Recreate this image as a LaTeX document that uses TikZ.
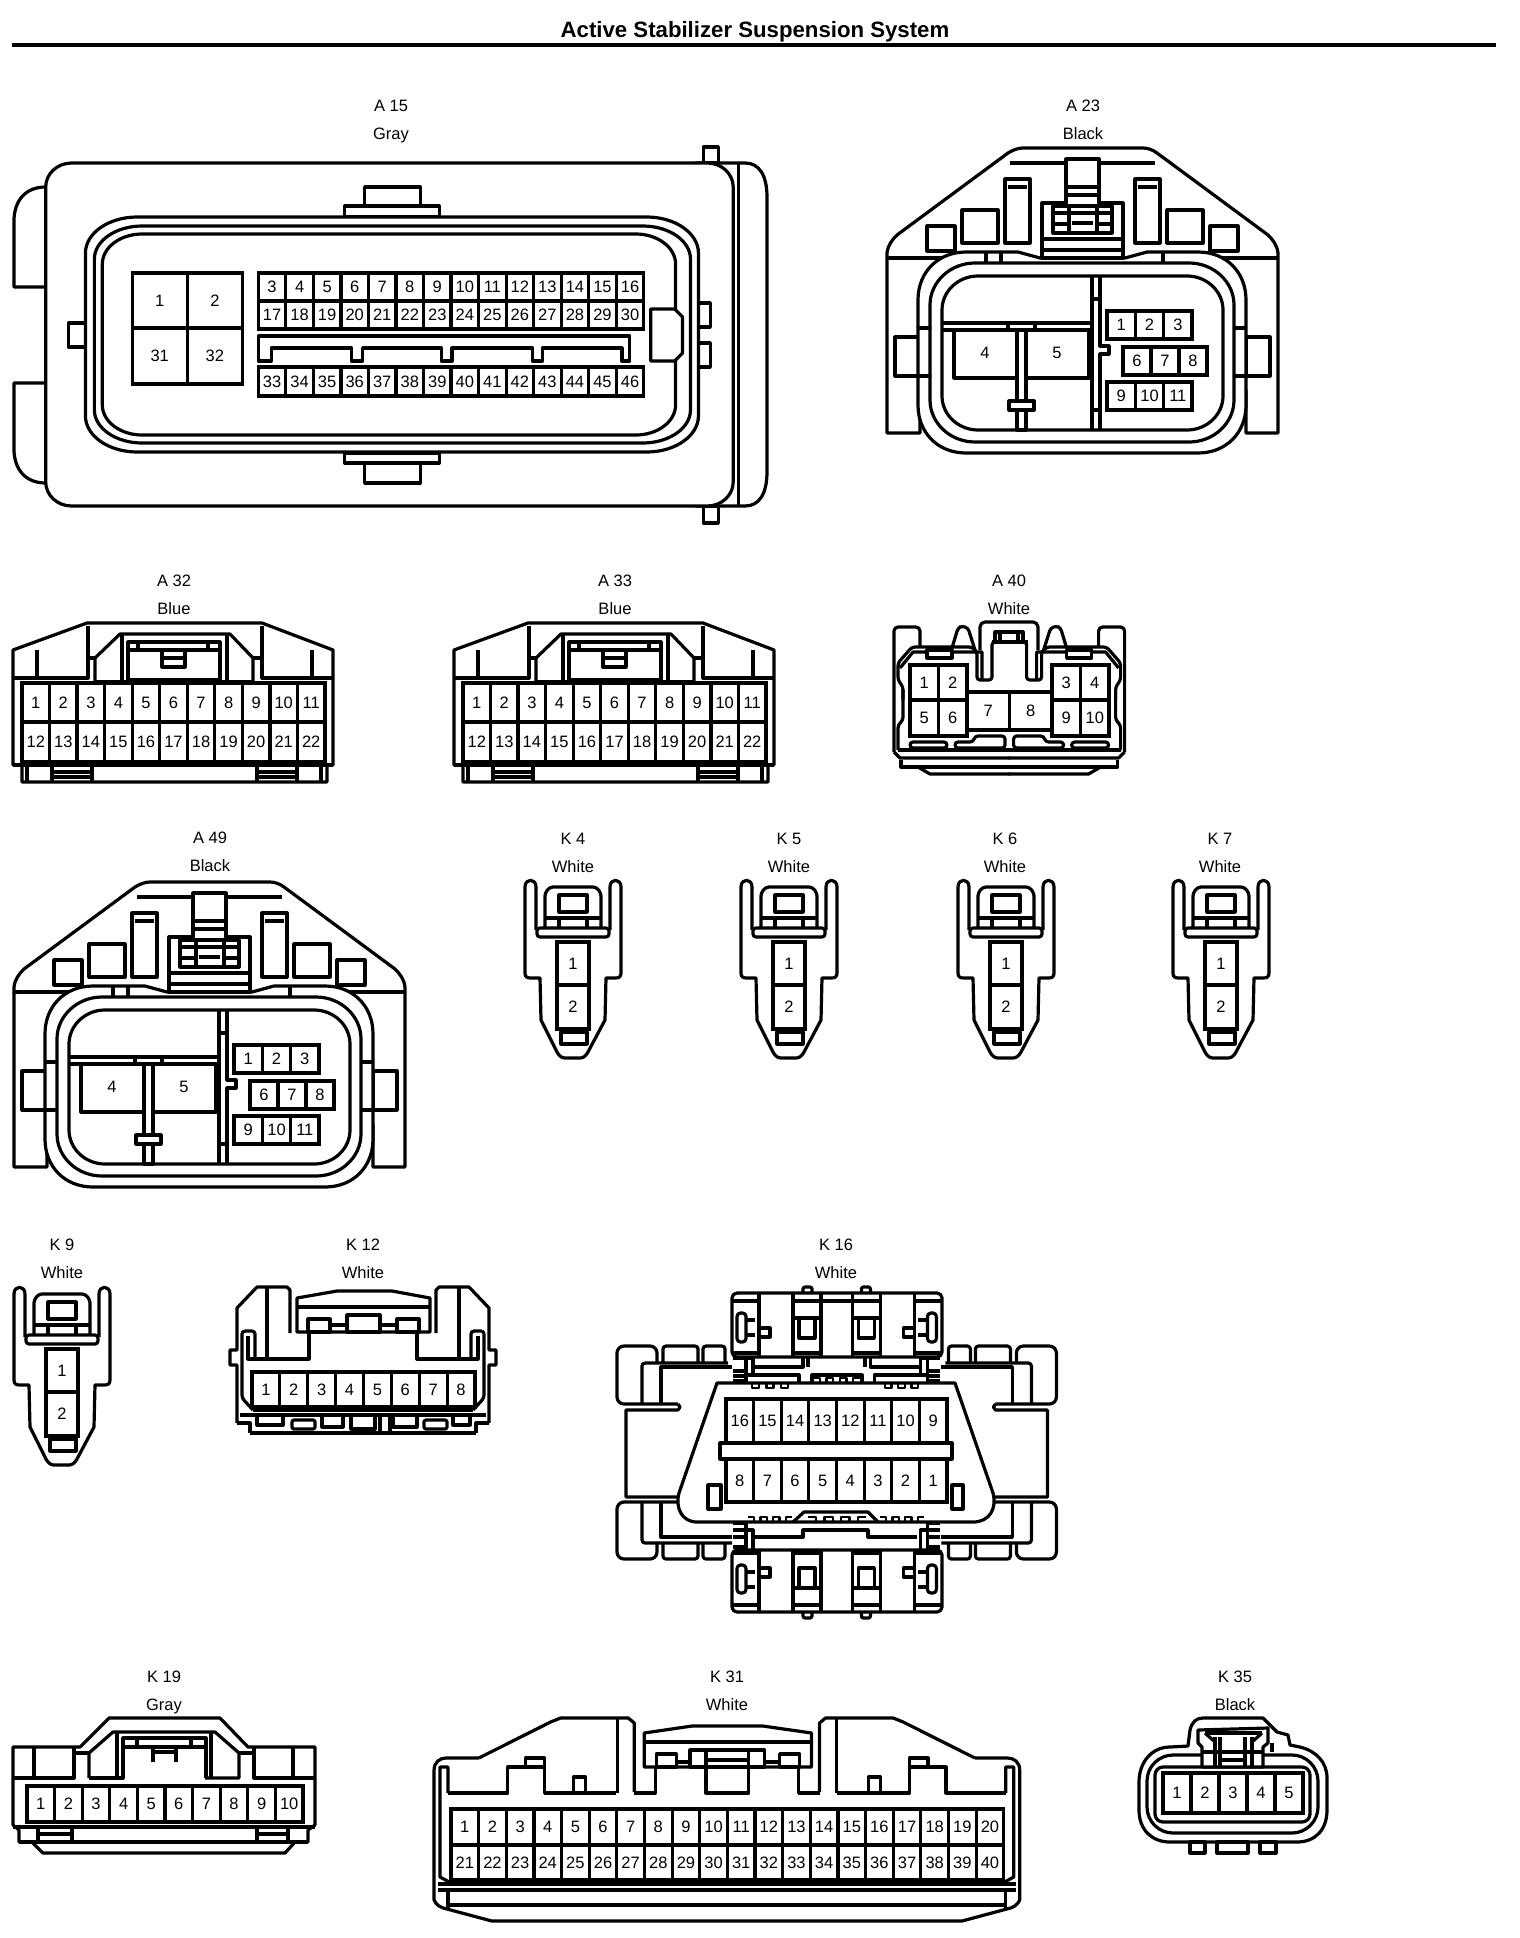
\documentclass[tikz,border=0pt]{standalone}
\usepackage{fontspec}
\setmainfont{Liberation Sans}
\tikzset{
 ln/.style={draw=black,line width=3.2pt,line join=round,line cap=butt},
 thin ln/.style={draw=black,line width=2.2pt,line join=round},
 pinln/.style={draw=black,line width=3.2pt,line join=miter},
 pintext/.style={inner sep=0pt,font=\fontsize{16.5}{18}\selectfont},
 lab/.style={inner sep=0pt,anchor=base,font=\fontsize{16.5}{18}\selectfont},
}
% name,x0,y0,x1,y1,cols,labels
\newcommand{\PinRow}[7]{%
 \draw[pinln,fill=white] (#2,#3) rectangle (#4,#5);
 \pgfmathsetmacro\cw{(#4-#2)/#6}
 \foreach \lab [count=\i] in {#7} {
  \pgfmathsetmacro\xa{#2+(\i-1)*\cw}
  \ifnum\i>1 \draw[pinln] (\xa,#3) -- (\xa,#5);\fi
  \node[pintext] (#1-\lab) at ({\xa+\cw/2},{(#3+#5)/2}) {\lab};
 }}
% rounded rectangle with elliptic corners: x0,y0,x1,y1,rx,ry
\newcommand{\RRect}[6]{%
 \draw[ln,fill=white] ({#1+#5},#2) -- ({#3-#5},#2)
  .. controls ({#3-.45*#5},#2) and (#3,{#2+.45*#6}) .. (#3,{#2+#6})
  -- (#3,{#4-#6}) .. controls (#3,{#4-.45*#6}) and ({#3-.45*#5},#4) .. ({#3-#5},#4)
  -- ({#1+#5},#4) .. controls ({#1+.45*#5},#4) and (#1,{#4-.45*#6}) .. (#1,{#4-#6})
  -- (#1,{#2+#6}) .. controls (#1,{#2+.45*#6}) and ({#1+.45*#5},#2) .. ({#1+#5},#2) -- cycle;}
% caption: name, x, y of first line, first, second
\newcommand{\Capt}[5]{%
 \node[lab] (#1-code) at (#2,{#3+6}) {#4};
 \node[lab] (#1-colour) at (#2,{#3+34}) {#5};}
\newcommand{\Bx}[4]{\draw[ln,fill=white] (#1,#2) rectangle (#3,#4);}

% A23 / A49
\newcommand{\AFive}[1]{%
 \draw[ln,fill=white] (887,433) -- (887,253) .. controls (888,245) and (892,240) .. (897,235) -- (1008,153) .. controls (1013,150) and (1018,148) .. (1023,148) -- (1143,148) .. controls (1148,148) and (1153,150) .. (1157,153) -- (1268,235) .. controls (1273,240) and (1277,245) .. (1278,253) -- (1278,433) -- (1246,433) -- (1246,390) -- (920,390) -- (920,433) -- cycle;
 \draw[ln] (887,258) -- (945,258);
 \draw[ln] (1222,258) -- (1278,258);
 \Bx{927}{226}{955}{251}
 \Bx{962}{210}{998}{243}
 \Bx{1005}{179}{1030}{243}
 \Bx{1135}{179}{1160}{243}
 \Bx{1167}{210}{1203}{243}
 \Bx{1210}{226}{1238}{251}
 \draw[ln] (1008,187) -- (1027,187);
 \draw[ln] (1138,187) -- (1157,187);
 \draw[ln] (1010,163) -- (1155,163);
 \Bx{895}{337}{920}{376}
 \Bx{1246}{337}{1270}{376}
 \draw[ln,fill=white] (918,300) .. controls (918,272) and (938,252) .. (966,252) -- (1018,252) -- (1040,258) -- (1125,258) -- (1147,252) -- (1198,252) .. controls (1226,252) and (1246,272) .. (1246,300) -- (1246,405) .. controls (1246,433) and (1226,453) .. (1198,453) -- (966,453) .. controls (938,453) and (918,433) .. (918,405) -- cycle;
 \draw[ln] (986,252) -- (986,263);
 \draw[ln] (1001,252) -- (1001,263);
 \draw[ln] (1163,252) -- (1163,263);
 \draw[ln] (918,328) -- (930,328);
 \draw[ln] (918,376) -- (930,376);
 \draw[ln] (1234,328) -- (1246,328);
 \draw[ln] (1234,376) -- (1246,376);
 \RRect{930}{263}{1234}{442}{45}{42}
 \RRect{942}{276}{1223}{430}{36}{34}
 \draw[ln,fill=white] (1066,159) -- (1099,159) -- (1099,203) -- (1123,203) -- (1123,258) -- (1042,258) -- (1042,203) -- (1066,203) -- cycle;
 \draw[ln] (1066,187) -- (1099,187);
 \draw[ln] (1066,195) -- (1099,195);
 \draw[ln,fill=white] (1053,206) rectangle (1112,233);
 \draw[ln] (1069,206) -- (1069,233);
 \draw[ln] (1097,206) -- (1097,233);
 \draw[ln] (1053,213) -- (1112,213);
 \draw[ln] (1053,224) -- (1069,224);
 \draw[ln] (1097,224) -- (1112,224);
 \draw[ln] (1072,223) -- (1093,223);
 \draw[ln] (1042,239) -- (1123,239);
 \draw[ln] (1042,250) -- (1123,250);
 \draw[ln] (1092,276) -- (1092,430);
 \draw[ln] (1100,276) -- (1100,346) -- (1109,346) -- (1109,354) -- (1100,354) -- (1100,430);
 \draw[ln] (1092,299) -- (1100,299);
 \draw[ln] (1092,410) -- (1100,410);
 \draw[ln] (942,323) -- (1092,323);
 \draw[ln] (942,330) -- (1092,330);
 \draw[ln] (1008,323) -- (1008,330);
 \draw[ln] (1035,323) -- (1035,330);
 \draw[ln] (954,330) -- (954,378) -- (1089,378) -- (1089,330);
 \draw[ln,fill=white] (1017,330) rectangle (1026,430);
 \draw[ln,fill=white] (1009,401) rectangle (1034,410);
 \node[pintext] (#1-4) at (985,353) {4};
 \node[pintext] (#1-5) at (1057,353) {5};
 \PinRow{#1}{1107}{311}{1192}{339}{3}{1,2,3}
 \PinRow{#1}{1123}{347}{1207}{375}{3}{6,7,8}
 \PinRow{#1}{1107}{382}{1192}{410}{3}{9,10,11}
}

% A32 / A33
\newcommand{\ATwo}[1]{%
 \draw[ln,fill=white] (13,650) -- (87,623) -- (262,623) -- (333,650) -- (333,765) -- (327,765) -- (327,782) -- (22,782) -- (22,765) -- (13,765) -- cycle;
 \draw[ln] (13,678) -- (88,678) -- (88,626);
 \draw[ln] (333,678) -- (262,678) -- (262,626);
 \draw[ln] (37,650) -- (37,678);
 \draw[ln] (312,650) -- (312,678);
 \draw[ln] (95,682) -- (95,658) -- (120,634) -- (230,634) -- (253,658) -- (253,682);
 \draw[ln] (88,658) -- (95,658);
 \draw[ln] (253,658) -- (262,658);
 \draw[ln] (122,634) -- (122,682);
 \draw[ln] (227,634) -- (227,682);
 \draw[ln] (95,682) -- (128,682);
 \draw[ln] (220,682) -- (253,682);
 \draw[ln,fill=white] (128,642) rectangle (220,680);
 \draw[ln] (128,650) -- (220,650);
 \draw[ln] (138,642) -- (138,650);
 \draw[ln] (208,642) -- (208,650);
 \draw[ln] (162,650) -- (162,667) -- (185,667) -- (185,650);
 \draw[ln] (162,658) -- (185,658);
 \PinRow{#1}{22}{683}{325}{722}{11}{1,2,3,4,5,6,7,8,9,10,11}
 \PinRow{#1}{22}{722}{325}{762}{11}{12,13,14,15,16,17,18,19,20,21,22}
 \draw[ln] (13,765) -- (333,765);
 \draw[ln] (27,765) -- (27,782);
 \draw[ln] (52,765) -- (52,782);
 \draw[ln] (92,765) -- (92,782);
 \draw[ln] (52,772) -- (92,772);
 \draw[ln] (52,777) -- (92,777);
 \draw[ln] (257,765) -- (257,782);
 \draw[ln] (297,765) -- (297,782);
 \draw[ln] (257,772) -- (297,772);
 \draw[ln] (257,777) -- (297,777);
 \draw[ln] (321,765) -- (321,782);
}

% K4 family
\newcommand{\KFour}[1]{%
 \draw[ln,fill=white] (536,930) -- (536,887) .. controls (536,878) and (525,878) .. (525,887) -- (525,973) .. controls (525,977) and (527,978) .. (531,978) -- (540,978) -- (541,1020) -- (557,1052) .. controls (559,1056) and (562,1058) .. (565,1058) -- (580,1058) .. controls (583,1058) and (586,1056) .. (588,1052) -- (605,1020) -- (606,978) -- (615,978) .. controls (619,978) and (621,977) .. (621,973) -- (621,887) .. controls (621,878) and (610,878) .. (610,887) -- (610,930);
 \draw[ln,fill=white,rounded corners=3pt] (545,930) -- (545,893) -- (550,887) -- (596,887) -- (601,893) -- (601,930);
 \draw[ln] (545,918) -- (601,918);
 \draw[ln] (559,918) -- (559,930);
 \draw[ln] (587,918) -- (587,930);
 \draw[ln,fill=white] (559,895) rectangle (587,912);
 \draw[ln,fill=white,rounded corners=3pt] (537,928) rectangle (609,937);
 \PinRow{#1}{557}{942}{589}{985}{1}{1}
 \PinRow{#1}{557}{985}{589}{1029}{1}{2}
 \draw[ln,fill=white] (561,1032) rectangle (587,1044);
}

\newcommand{\KTwelveHalf}{%
 \draw[ln] (237,1423) -- (237,1365) -- (230,1365) -- (230,1350) -- (237,1350) -- (237,1308) -- (257,1287) -- (287,1287) -- (290,1290) -- (290,1333);
 \draw[ln] (267,1287) -- (267,1359);
 \draw[ln] (309,1332) -- (309,1359) -- (248,1359) -- (248,1336);
 \draw[ln,rounded corners=3pt] (255,1359) -- (255,1331) -- (242,1331) -- (242,1398) -- (253,1410);
 \draw[ln] (237,1423) -- (250,1423) -- (250,1433);
}
\newcommand{\KSixWing}{%
 \draw[ln,rounded corners=7pt] (657,1362) -- (657,1346) -- (617,1346) -- (617,1404) -- (678,1404);
 \draw[ln] (678,1404) -- (680,1407) -- (678,1410) -- (626,1410) -- (626,1497) -- (679,1497);
 \draw[ln,rounded corners=3pt] (663,1362) -- (663,1346) -- (698,1346) -- (698,1362);
 \draw[ln,rounded corners=3pt] (703,1362) -- (703,1346) -- (725,1346) -- (725,1362);
 \draw[ln,rounded corners=3pt] (642,1403) -- (642,1363) -- (728,1363);
 \draw[ln] (661,1403) -- (661,1367) -- (732,1367);
 \draw[ln,rounded corners=7pt] (679,1502) -- (617,1502) -- (617,1559) -- (657,1559) -- (657,1543);
 \draw[ln,rounded corners=3pt] (663,1543) -- (663,1559) -- (698,1559) -- (698,1543);
 \draw[ln,rounded corners=3pt] (703,1543) -- (703,1559) -- (725,1559) -- (725,1543);
 \draw[ln,rounded corners=3pt] (642,1503) -- (642,1543) -- (732,1543);
 \draw[ln] (661,1503) -- (661,1537) -- (732,1537);
}
\newcommand{\KSixStack}{%
 \draw[ln] (733,1358) -- (753,1358) -- (753,1375) -- (747,1375);
 \draw[ln] (733,1371) -- (746,1371);
 \draw[ln] (733,1376) -- (746,1376);
 \draw[ln] (733,1381) -- (746,1381);
 \draw[ln] (746,1358) -- (746,1383);
 \draw[ln] (753,1367) -- (803,1367) -- (803,1358);
 \draw[ln] (753,1375) -- (799,1375) -- (799,1383);
 \draw[ln] (733,1523) -- (746,1523);
 \draw[ln] (733,1530) -- (746,1530);
 \draw[ln] (733,1537) -- (746,1537);
 \draw[ln] (733,1547) -- (746,1547);
 \draw[ln] (746,1522) -- (746,1550);
 \draw[ln] (746,1530) -- (753,1530) -- (753,1549);
 \draw[ln] (759,1293) -- (759,1357);
 \draw[ln] (732,1301) -- (759,1301);
 \draw[ln] (732,1353) -- (759,1353);
 \draw[ln,rounded corners=3.5pt] (737,1313) rectangle (746,1342);
 \draw[ln] (746,1320) -- (755,1320);
 \draw[ln] (746,1335) -- (755,1335);
 \draw[ln] (760,1328) -- (770,1328) -- (770,1337) -- (760,1337);
 \draw[ln] (793,1293) -- (793,1357);
 \draw[ln] (821,1293) -- (821,1357);
 \draw[ln] (793,1301) -- (821,1301);
 \draw[ln] (793,1353) -- (821,1353);
 \draw[ln] (799,1318) -- (799,1338) -- (815,1338) -- (815,1318);
 \draw[ln] (793,1318) -- (821,1318);
 \draw[ln,rounded corners=2pt] (803,1293) -- (803,1287) -- (812,1287) -- (812,1293);
 \draw[ln] (759,1550) -- (759,1612);
 \draw[ln] (732,1553) -- (759,1553);
 \draw[ln] (732,1605) -- (759,1605);
 \draw[ln,rounded corners=3.5pt] (737,1565) rectangle (746,1593);
 \draw[ln] (746,1572) -- (755,1572);
 \draw[ln] (746,1587) -- (755,1587);
 \draw[ln] (760,1568) -- (770,1568) -- (770,1577) -- (760,1577);
 \draw[ln] (793,1550) -- (793,1612);
 \draw[ln] (821,1550) -- (821,1612);
 \draw[ln] (793,1553) -- (821,1553);
 \draw[ln] (793,1605) -- (821,1605);
 \draw[ln] (799,1588) -- (799,1568) -- (815,1568) -- (815,1588);
 \draw[ln] (793,1588) -- (821,1588);
 \draw[ln,rounded corners=2pt] (803,1612) -- (803,1618) -- (812,1618) -- (812,1612);
}
\newcommand{\Crenel}[3]{% x0,x1,y
 \pgfmathsetmacro\cstep{(#2-#1)/7}
 \draw[thin ln] (#1,#3) -- ++(\cstep,0) -- ++(0,5) -- ++(\cstep,0) -- ++(0,-5) -- ++(\cstep,0) -- ++(0,5) -- ++(\cstep,0) -- ++(0,-5) -- ++(\cstep,0) -- ++(0,5) -- ++(\cstep,0) -- ++(0,-5) -- ++(\cstep,0);}
\newcommand{\KThirtyHalf}{%
 \draw[ln] (635,1792) -- (635,1723) -- (629,1718) -- (561,1718) -- (551,1722) -- (479,1758);
 \draw[ln] (618,1718) -- (618,1793);
 \draw[ln] (448,1793) -- (508,1793) -- (508,1767) -- (545,1767) -- (545,1793) -- (617,1793);
 \draw[ln] (526,1767) -- (526,1758) -- (545,1758) -- (545,1767);
 \draw[ln] (574,1793) -- (574,1777) -- (586,1777) -- (586,1793);
 \draw[ln] (635,1793) -- (656,1793) -- (656,1767);
 \draw[ln] (448,1793) -- (448,1767) -- (440,1767) -- (440,1877) -- (451,1883);
}
\begin{document}
\begin{tikzpicture}[x=1pt,y=-1pt]
\useasboundingbox (0,0) rectangle (1520,1938);
\fill[white] (0,0) rectangle (1520,1938);

% Title
\node[inner sep=0pt,anchor=base,font=\fontsize{22.2}{24}\selectfont\bfseries] (title) at (755,37) {Active Stabilizer Suspension System};
\coordinate (ruleL) at (12,45);
\coordinate (ruleR) at (1496,45);
\draw[line width=4.5pt] (ruleL) -- (ruleR);

%%%%%%%% A15
\Capt{A15}{391}{105}{A 15}{Gray}
\begin{scope}[xscale=.9935]
\draw[ln,fill=white] (46,187) .. controls (26,187) and (14,200) .. (14,222) -- (14,287) -- (46,287);
\draw[ln,fill=white] (46,383) -- (14,383) -- (14,448) .. controls (14,470) and (26,483) .. (46,483);
\Bx{708}{147}{723}{163}
\Bx{708}{506}{723}{523}
\draw[ln,fill=white] (700,163) -- (750,163) .. controls (764,163) and (772,175) .. (772,197) -- (772,472) .. controls (772,494) and (764,506) .. (750,506) -- (700,506);
\draw[ln] (743,163) -- (743,506);
\RRect{46}{163}{738}{506}{26}{24}
\Bx{367}{187}{423}{206}
\Bx{347}{206}{442}{217}
\Bx{367}{463}{423}{483}
\Bx{347}{453}{442}{463}
\Bx{69}{323}{86}{347}
\Bx{703}{303}{715}{327}
\Bx{703}{343}{715}{367}
\RRect{86}{217}{703}{452}{52}{36}
\RRect{95}{226}{695}{443}{48}{33}
\RRect{103}{234}{680}{435}{40}{30}
\PinRow{A15}{133}{273}{244}{328}{2}{1,2}
\PinRow{A15}{133}{328}{244}{384}{2}{31,32}
\PinRow{A15}{260}{273}{648}{301}{14}{3,4,5,6,7,8,9,10,11,12,13,14,15,16}
\PinRow{A15}{260}{301}{648}{329}{14}{17,18,19,20,21,22,23,24,25,26,27,28,29,30}
\PinRow{A15}{260}{367}{648}{396}{14}{33,34,35,36,37,38,39,40,41,42,43,44,45,46}
\draw[ln] (260,336) -- (634,336) -- (634,361) -- (626,361) -- (626,348) -- (546,348) -- (546,361) -- (536,361) -- (536,348) -- (455,348) -- (455,361) -- (444,361) -- (444,348) -- (365,348) -- (365,361) -- (354,361) -- (354,348) -- (273,348) -- (273,361) -- (260,361) -- cycle;
\draw[ln,fill=white] (655,309) -- (679,309) -- (687,317) -- (687,353) -- (679,361) -- (655,361) -- cycle;
\end{scope}

%%%%%%%% A23
\Capt{A23}{1083}{105}{A 23}{Black}
\AFive{A23}

%%%%%%%% A49
\Capt{A49}{210}{837}{A 49}{Black}
\begin{scope}[shift={(-873,734)}]
\AFive{A49}
\end{scope}

%%%%%%%% A32 / A33
\Capt{A32}{174}{580}{A 32}{Blue}
\ATwo{A32}
\Capt{A33}{615}{580}{A 33}{Blue}
\begin{scope}[shift={(441,0)}]
\ATwo{A33}
\end{scope}

%%%%%%%% A40
\Capt{A40}{1009}{580}{A 40}{White}
\foreach \sc/\off in {1/0,-1/2018.6}{
\begin{scope}[shift={(\off,0)},xscale=\sc]
 \draw[ln,rounded corners=4pt] (894,752) -- (894,627) -- (920,627) -- (920,647);
 \draw[ln,rounded corners=3pt] (952,648) -- (958,628) -- (962,626) -- (968,628) -- (975,650);
 \draw[ln,rounded corners=3pt] (903,700) -- (903,687) -- (898,680) -- (898,663) -- (912,647) -- (972,647) -- (977,652) -- (977,680) -- (992,680) -- (992,642) -- (1010,642);
 \draw[ln] (900,668) -- (913,652) -- (972,652) -- (982,652) -- (982,680);
 \draw[ln,fill=white] (927,650) rectangle (952,658);
 \draw[ln,rounded corners=3pt] (898,750) -- (898,725) -- (903,720) -- (903,690);
 \draw[ln] (894,752) -- (900,758) -- (1010,758);
 \draw[ln] (901,760) -- (901,767) -- (1010,767);
 \draw[ln] (918,767) -- (930,774) -- (1010,774);
 \draw[ln,rounded corners=3pt] (910,742) rectangle (947,748);
 \draw[ln,rounded corners=3pt] (955,748) -- (955,742) -- (973,742) -- (975,736) -- (1005,736) -- (1005,748) -- cycle;
 \draw[ln] (898,750) -- (1010,750);
\end{scope}}
\draw[ln,rounded corners=5pt] (980,650) -- (980,622) -- (1038,622) -- (1038,650);
\draw[ln] (992,642) -- (1028,642);
\draw[ln] (995,640) -- (995,632) -- (1023,632) -- (1023,640);
\draw[ln] (1000,632) -- (1000,640);
\draw[ln] (1018,632) -- (1018,640);
\PinRow{A40}{910}{665}{967}{700}{2}{1,2}
\PinRow{A40}{910}{700}{967}{736}{2}{5,6}
\PinRow{A40}{1052}{665}{1109}{700}{2}{3,4}
\PinRow{A40}{1052}{700}{1109}{736}{2}{9,10}
\PinRow{A40}{967}{692}{1052}{730}{2}{7,8}

%%%%%%%% K4..K9
\Capt{K4}{573}{838}{K 4}{White}
\KFour{K4}
\Capt{K5}{789}{838}{K 5}{White}
\begin{scope}[shift={(216,0)}]\KFour{K5}\end{scope}
\Capt{K6}{1005}{838}{K 6}{White}
\begin{scope}[shift={(433,0)}]\KFour{K6}\end{scope}
\Capt{K7}{1220}{838}{K 7}{White}
\begin{scope}[shift={(648,0)}]\KFour{K7}\end{scope}
\Capt{K9}{62}{1244}{K 9}{White}
\begin{scope}[shift={(-511,407)}]\KFour{K9}\end{scope}

%%%%%%%% K12
\Capt{K12}{363}{1244}{K 12}{White}
\KTwelveHalf
\begin{scope}[shift={(726,0)},xscale=-1]\KTwelveHalf\end{scope}
\draw[ln,fill=white] (297,1298) -- (337,1291) -- (392,1291) -- (430,1298) -- (430,1332) -- (297,1332) -- cycle;
\draw[ln] (297,1307) -- (430,1307);
\Bx{308}{1319}{330}{1332}
\Bx{397}{1319}{419}{1332}
\Bx{347}{1315}{380}{1332}
\draw[ln] (330,1325) -- (347,1325);
\draw[ln] (380,1325) -- (397,1325);
\draw[ln] (417,1332) -- (417,1359);
\PinRow{K12}{252}{1372}{475}{1407}{8}{1,2,3,4,5,6,7,8}
\draw[ln] (253,1410) -- (473,1410);
\draw[ln] (240,1415) -- (486,1415);
\draw[ln] (250,1433) -- (476,1433);
\draw[ln] (257,1417) -- (257,1425) -- (283,1425) -- (283,1417);
\draw[ln,rounded corners=2pt] (292,1420) rectangle (315,1429);
\draw[ln] (322,1417) -- (322,1427) -- (343,1427) -- (343,1417);
\draw[ln] (351,1417) -- (351,1429) -- (375,1429) -- (375,1417);
\draw[ln] (380,1417) -- (380,1431);
\draw[ln] (390,1417) -- (390,1431);
\draw[ln] (393,1417) -- (393,1427) -- (417,1427) -- (417,1417);
\draw[ln,rounded corners=2pt] (424,1420) rectangle (447,1429);
\draw[ln] (453,1417) -- (453,1425) -- (470,1425) -- (470,1417);

%%%%%%%% K16
\Capt{K16}{836}{1244}{K 16}{White}
\KSixWing
\begin{scope}[shift={(1673.4,0)},xscale=-1]\KSixWing\end{scope}
\draw[ln,fill=white,rounded corners=5pt] (732,1293) rectangle (942,1357);
\draw[ln,fill=white,rounded corners=5pt] (732,1550) rectangle (942,1612);
\KSixStack
\begin{scope}[shift={(1673.4,0)},xscale=-1]\KSixStack\end{scope}
\draw[ln] (822,1301) -- (852,1301);
\draw[ln] (808,1357) -- (808,1367);
\draw[ln] (865,1357) -- (865,1367);
\draw[ln] (812,1383) -- (812,1375) -- (862,1375) -- (862,1383);
\draw[ln] (755,1537) -- (803,1537) -- (803,1530) -- (868,1530) -- (868,1537) -- (917,1537);
\draw[ln,fill=white] (717,1383) -- (955,1383) -- (993,1493) .. controls (997,1508) and (990,1522) .. (973,1522) -- (697,1522) .. controls (682,1522) and (675,1508) .. (679,1493) -- cycle;
\Crenel{745}{795}{1383}
\Crenel{813}{860}{1378}
\Crenel{878}{925}{1383}
\Crenel{748}{792}{1517}
\Crenel{808}{866}{1517}
\Crenel{880}{924}{1517}
\draw[ln] (793,1522) -- (804,1512) -- (868,1512) -- (878,1522);
\PinRow{K16}{726}{1399}{947}{1443}{8}{16,15,14,13,12,11,10,9}
\PinRow{K16}{726}{1459}{947}{1502}{8}{8,7,6,5,4,3,2,1}
\draw[ln,fill=white] (720,1443) rectangle (952,1459);
\Bx{708}{1485}{721}{1509}
\Bx{952}{1485}{963}{1509}

%%%%%%%% K19
\Capt{K19}{164}{1676}{K 19}{Gray}
\draw[ln,fill=white] (13,1747) -- (80,1747) -- (109,1718) -- (220,1718) -- (248,1747) -- (315,1747) -- (315,1825) -- (308,1830) -- (308,1842) -- (295,1842) -- (285,1853) -- (43,1853) -- (32,1842) -- (19,1842) -- (19,1830) -- (13,1825) -- cycle;
\draw[ln] (13,1778) -- (74,1778) -- (74,1747);
\draw[ln] (315,1778) -- (254,1778) -- (254,1747);
\draw[ln] (34,1747) -- (34,1778);
\draw[ln] (293,1747) -- (293,1778);
\draw[ln] (74,1753) -- (89,1753);
\draw[ln] (239,1753) -- (254,1753);
\draw[ln] (89,1778) -- (89,1753) -- (113,1732) -- (215,1732) -- (239,1753) -- (239,1778) -- (205,1778);
\draw[ln] (89,1778) -- (123,1778) -- (123,1738) -- (206,1738) -- (206,1778);
\draw[ln] (117,1732) -- (117,1778);
\draw[ln] (211,1732) -- (211,1778);
\draw[ln] (123,1747) -- (206,1747);
\draw[ln] (137,1738) -- (137,1747);
\draw[ln] (191,1738) -- (191,1747);
\draw[ln] (153,1747) -- (153,1762);
\draw[ln] (176,1747) -- (176,1762);
\draw[ln] (153,1752) -- (176,1752);
\PinRow{K19}{27}{1786}{303}{1822}{10}{1,2,3,4,5,6,7,8,9,10}
\draw[ln] (13,1827) -- (315,1827);
\draw[ln] (19,1842) -- (308,1842);
\draw[ln] (38,1827) -- (38,1842);
\draw[ln] (72,1827) -- (72,1842);
\draw[ln] (38,1834) -- (72,1834);
\draw[ln] (257,1827) -- (257,1842);
\draw[ln] (288,1827) -- (288,1842);
\draw[ln] (257,1834) -- (288,1834);

%%%%%%%% K31
\Capt{K31}{727}{1676}{K 31}{White}
\begin{scope}[shift={(1.8,0)},xscale=.996]
\draw[ln] (479,1758) -- (446,1758) .. controls (440,1758) and (434,1762) .. (434,1770) -- (434,1900) .. controls (436,1905) and (441,1908) .. (447,1909) -- (492,1921) -- (964,1921) -- (1009,1909) .. controls (1015,1908) and (1020,1905) .. (1022,1900) -- (1022,1770) .. controls (1022,1762) and (1016,1758) .. (1010,1758) -- (977,1758);
\KThirtyHalf
\begin{scope}[shift={(1456,0)},xscale=-1]\KThirtyHalf\end{scope}
\draw[ln,fill=white] (645,1733) -- (693,1726) -- (764,1726) -- (813,1733) -- (813,1767) -- (645,1767) -- cycle;
\draw[ln] (645,1742) -- (813,1742);
\Bx{657}{1754}{677}{1767}
\Bx{781}{1754}{801}{1767}
\draw[ln,fill=white] (691,1750) rectangle (766,1767);
\draw[ln] (677,1762) -- (691,1762);
\draw[ln] (766,1762) -- (781,1762);
\draw[ln] (707,1750) -- (707,1793) -- (750,1793) -- (750,1750);
\draw[ln] (707,1760) -- (750,1760);
\PinRow{K31}{451}{1809}{1006}{1845}{20}{1,2,3,4,5,6,7,8,9,10,11,12,13,14,15,16,17,18,19,20}
\PinRow{K31}{451}{1845}{1006}{1880}{20}{21,22,23,24,25,26,27,28,29,30,31,32,33,34,35,36,37,38,39,40}
\draw[ln] (438,1884) -- (1018,1884);
\draw[ln] (438,1890) -- (1018,1890);
\draw[ln] (448,1905) -- (1008,1905);
\draw[ln] (448,1890) -- (448,1909);
\draw[ln] (1008,1890) -- (1008,1909);
\end{scope}

%%%%%%%% K35
\Capt{K35}{1235}{1676}{K 35}{Black}
\draw[ln,fill=white] (1139,1782) .. controls (1139,1762) and (1152,1747) .. (1170,1747) -- (1188,1746) -- (1190,1730) .. controls (1192,1722) and (1196,1718) .. (1203,1718) -- (1263,1718) -- (1277,1732) -- (1288,1735) -- (1290,1745) -- (1300,1747) .. controls (1316,1751) and (1327,1762) .. (1327,1778) -- (1327,1810) .. controls (1327,1830) and (1315,1842) .. (1297,1842) -- (1170,1842) .. controls (1152,1842) and (1139,1830) .. (1139,1810) -- cycle;
\Bx{1190}{1842}{1205}{1853}
\Bx{1217}{1842}{1248}{1853}
\Bx{1260}{1842}{1276}{1853}
\RRect{1147}{1755}{1318}{1833}{26}{26}
\draw[ln,fill=white,rounded corners=8pt] (1155,1767) rectangle (1310,1822);
\draw[ln,fill=white] (1198,1730) -- (1268,1728) -- (1268,1743) -- (1263,1747) -- (1263,1767) -- (1202,1767) -- (1202,1747) -- (1198,1743) -- cycle;
\draw[ln] (1205,1733) -- (1215,1742);
\draw[ln] (1262,1733) -- (1252,1742);
\draw[ln] (1205,1733) -- (1262,1733);
\draw[ln] (1215,1737) -- (1215,1767);
\draw[ln] (1220,1737) -- (1220,1767);
\draw[ln] (1245,1737) -- (1245,1767);
\draw[ln] (1252,1737) -- (1252,1767);
\draw[ln] (1202,1752) -- (1263,1752);
\draw[ln] (1220,1760) -- (1245,1760);
\draw[ln] (1272,1743) -- (1272,1752);
\PinRow{K35}{1163}{1773}{1303}{1813}{5}{1,2,3,4,5}
\end{tikzpicture}
\end{document}
